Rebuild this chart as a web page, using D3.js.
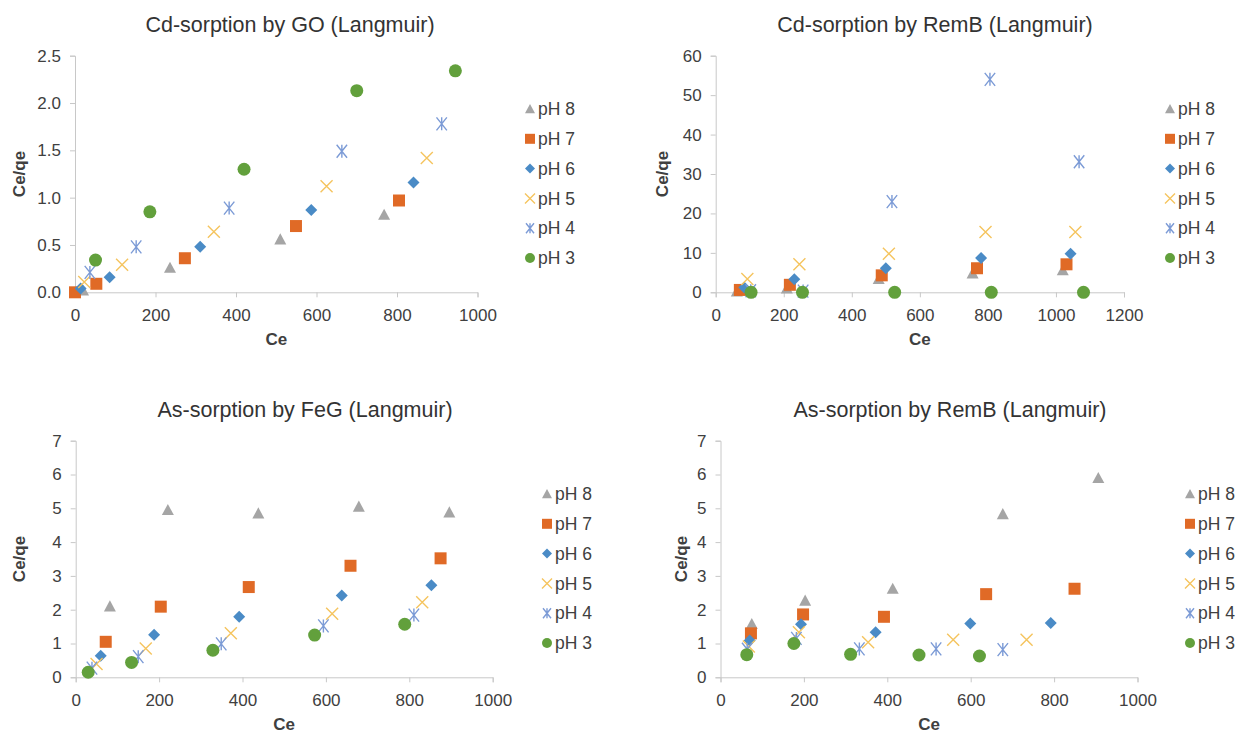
<!DOCTYPE html>
<html>
<head>
<meta charset="utf-8">
<script src="https://cdn.jsdelivr.net/npm/d3@7"></script>
<style>
  html, body { margin: 0; padding: 0; background: #fff; }
  svg { display: block; font-family: "Liberation Sans", Arial, sans-serif; }
</style>
</head>
<body>
<svg id="chart" width="1254" height="733"></svg>
<script>
// Series labels, in drawing / legend order
const phLabels = ["pH 8", "pH 7", "pH 6", "pH 5", "pH 4", "pH 3"];

// [Ce, Ce/qe] points per pH series (same order as phLabels)
const cdGO = [
  [[20, 0.02], [236, 0.26], [510, 0.56], [768, 0.82]],
  [[0, 0.00], [53, 0.09], [273, 0.36], [549, 0.70], [805, 0.97]],
  [[14, 0.04], [86, 0.16], [311, 0.48], [587, 0.87], [841, 1.16]],
  [[23, 0.11], [117, 0.29], [345, 0.64], [625, 1.12], [874, 1.42]],
  [[37, 0.21], [152, 0.48], [383, 0.89], [663, 1.49], [911, 1.78]],
  [[51, 0.34], [186, 0.85], [420, 1.30], [700, 2.13], [945, 2.34]]
];

const cdRemB = [
  [[62, 0.2], [209, 1.0], [479, 3.4], [755, 4.8], [1020, 5.6]],
  [[71, 0.6], [218, 1.9], [488, 4.3], [768, 6.1], [1031, 7.1]],
  [[84, 1.2], [231, 3.3], [500, 6.1], [780, 8.7], [1043, 9.8]],
  [[93, 3.4], [246, 7.1], [509, 9.8], [793, 15.3], [1057, 15.3]],
  [[103, 0.4], [257, 0.3], [518, 23.0], [806, 54.0], [1068, 33.1]],
  [[104, 0.0], [255, 0.0], [526, 0.0], [810, 0.0], [1081, 0.0]]
];

const asFeG = [
  [[82, 2.10], [221, 4.95], [438, 4.85], [679, 5.05], [896, 4.88]],
  [[72, 1.05], [204, 2.09], [415, 2.67], [659, 3.30], [875, 3.52]],
  [[60, 0.64], [188, 1.26], [392, 1.79], [638, 2.42], [853, 2.72]],
  [[50, 0.39], [168, 0.85], [372, 1.30], [615, 1.88], [831, 2.22]],
  [[39, 0.27], [150, 0.61], [349, 0.99], [594, 1.52], [811, 1.84]],
  [[30, 0.15], [134, 0.44], [329, 0.80], [573, 1.25], [789, 1.57]]
];

const asRemB = [
  [[75, 1.58], [203, 2.27], [413, 2.62], [677, 4.83], [906, 5.90]],
  [[73, 1.30], [198, 1.86], [392, 1.79], [637, 2.46], [849, 2.62]],
  [[70, 1.09], [193, 1.57], [372, 1.33], [599, 1.59], [792, 1.61]],
  [[68, 0.91], [188, 1.33], [354, 1.04], [558, 1.11], [734, 1.11]],
  [[64, 0.83], [182, 1.15], [333, 0.84], [517, 0.84], [677, 0.82]],
  [[63, 0.67], [176, 1.00], [312, 0.68], [476, 0.66], [621, 0.63]]
];

// Axis ticks
const xTicks1000 = [0, 200, 400, 600, 800, 1000];
const xTicks1200 = [0, 200, 400, 600, 800, 1000, 1200];
const yTicksCdGO = [0, 0.5, 1.0, 1.5, 2.0, 2.5];
const yTicksCdRemB = [0, 10, 20, 30, 40, 50, 60];
const yTicksAs = [0, 1, 2, 3, 4, 5, 6, 7];

// Marker styling per series
const markerColors = ["#a5a5a5", "#e06a26", "#4a8bc6", "#f5c45e", "#7c9bd6", "#62a03c"];
const markerShapes = ["triangle", "square", "diamond", "cross", "star", "circle"];

const svg = d3.select("#chart");
const textColor = "#404040";
const axisColor = "#c8c8c8";

function markerPath(shape, s) {
  const h = s / 2;
  switch (shape) {
    case "triangle": return `M0,${-h}L${h},${h * 0.85}L${-h},${h * 0.85}Z`;
    case "square": return `M${-h},${-h}H${h}V${h}H${-h}Z`;
    case "diamond": return `M0,${-h}L${h},0L0,${h}L${-h},0Z`;
    case "cross": return `M${-h},${-h}L${h},${h}M${h},${-h}L${-h},${h}`;
    case "star": {
      const d = h * 0.8;
      return `M${-d},${-h}L${d},${h}M${d},${-h}L${-d},${h}M0,${-h}V${h}`;
    }
    default: return "";
  }
}

function drawMarker(g, shape, color, x, y, size) {
  if (shape === "circle") {
    g.append("circle").attr("cx", x).attr("cy", y).attr("r", size / 2).attr("fill", color);
  } else if (shape === "cross" || shape === "star") {
    g.append("path").attr("d", markerPath(shape, size))
      .attr("transform", `translate(${x},${y})`)
      .attr("fill", "none").attr("stroke", color).attr("stroke-width", 1.4);
  } else {
    g.append("path").attr("d", markerPath(shape, size))
      .attr("transform", `translate(${x},${y})`)
      .attr("fill", color);
  }
}

const markerSizes = { triangle: 12, square: 12, diamond: 12, cross: 12, star: 13, circle: 13 };

function drawPanel(cfg) {
  const g = svg.append("g");
  const x = d3.scaleLinear().domain(cfg.xDomain).range([cfg.left, cfg.right]);
  const y = d3.scaleLinear().domain(cfg.yDomain).range([cfg.bottom, cfg.top]);

  // x axis
  const xAxis = g.append("g").attr("transform", `translate(0,${cfg.bottom})`)
    .call(d3.axisBottom(x).tickValues(cfg.xTicks).tickSize(5).tickPadding(7).tickFormat(d3.format("d")));
  // y axis
  const yAxis = g.append("g").attr("transform", `translate(${cfg.left},0)`)
    .call(d3.axisLeft(y).tickValues(cfg.yTicks).tickSize(5).tickPadding(9).tickFormat(cfg.yFormat));

  [xAxis, yAxis].forEach(a => {
    a.select(".domain").attr("stroke", axisColor).attr("stroke-width", 1);
    a.selectAll(".tick line").attr("stroke", axisColor);
    a.selectAll(".tick text").attr("fill", textColor).attr("font-size", 17)
      .attr("font-family", "Liberation Sans, Arial, sans-serif");
  });
  xAxis.selectAll(".tick text").attr("dy", "1.0em");

  // titles
  g.append("text").attr("x", cfg.titleX).attr("y", cfg.top - 24)
    .attr("text-anchor", "middle").attr("font-size", 21.5).attr("fill", "#333")
    .text(cfg.title);
  g.append("text").attr("x", (cfg.left + cfg.right) / 2).attr("y", cfg.bottom + 53)
    .attr("text-anchor", "middle").attr("font-size", 17).attr("font-weight", "bold")
    .attr("fill", textColor).text("Ce");
  g.append("text")
    .attr("transform", `translate(${cfg.yTitleX},${(cfg.top + cfg.bottom) / 2}) rotate(-90)`)
    .attr("text-anchor", "middle").attr("font-size", 17).attr("font-weight", "bold")
    .attr("fill", textColor).text("Ce/qe");

  // points
  const pts = g.append("g");
  cfg.data.forEach((series, i) => {
    const shape = markerShapes[i];
    series.forEach(([ce, v]) => {
      drawMarker(pts, shape, markerColors[i], x(ce), y(v), markerSizes[shape]);
    });
  });

  // legend
  const lg = g.append("g");
  phLabels.forEach((lab, i) => {
    const ly = cfg.legendY + i * 29.8;
    drawMarker(lg, markerShapes[i], markerColors[i], cfg.legendX, ly, 10);
    lg.append("text").attr("x", cfg.legendX + 8).attr("y", ly).attr("dy", "0.35em")
      .attr("font-size", 17.5).attr("fill", textColor).text(lab);
  });
}

drawPanel({
  title: "Cd-sorption by GO (Langmuir)", titleX: 290,
  data: cdGO, xDomain: [0, 1000], yDomain: [0, 2.5],
  xTicks: xTicks1000, yTicks: yTicksCdGO, yFormat: d3.format(".1f"),
  left: 75, right: 477.5, top: 55.7, bottom: 292.3,
  yTitleX: 25, legendX: 530, legendY: 109
});

drawPanel({
  title: "Cd-sorption by RemB (Langmuir)", titleX: 935,
  data: cdRemB, xDomain: [0, 1200], yDomain: [0, 60],
  xTicks: xTicks1200, yTicks: yTicksCdRemB, yFormat: d3.format("d"),
  left: 715.7, right: 1124, top: 55.7, bottom: 292.3,
  yTitleX: 668, legendX: 1170, legendY: 109
});

drawPanel({
  title: "As-sorption by FeG (Langmuir)", titleX: 305,
  data: asFeG, xDomain: [0, 1000], yDomain: [0, 7],
  xTicks: xTicks1000, yTicks: yTicksAs, yFormat: d3.format("d"),
  left: 75.7, right: 492.7, top: 440.7, bottom: 677.3,
  yTitleX: 25, legendX: 547, legendY: 494
});

drawPanel({
  title: "As-sorption by RemB (Langmuir)", titleX: 950,
  data: asRemB, xDomain: [0, 1000], yDomain: [0, 7],
  xTicks: xTicks1000, yTicks: yTicksAs, yFormat: d3.format("d"),
  left: 720.5, right: 1137.5, top: 440.7, bottom: 677.3,
  yTitleX: 687, legendX: 1190, legendY: 494
});
</script>
</body>
</html>
